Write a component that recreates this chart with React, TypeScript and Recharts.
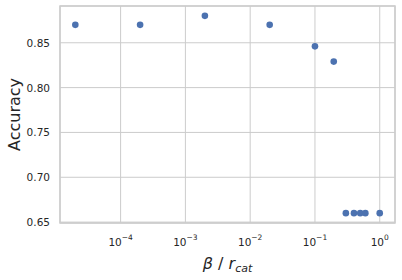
import React from 'react';
import { ScatterChart, Scatter, XAxis, YAxis, CartesianGrid, ReferenceArea } from 'recharts';

const betaValues = [2e-5, 2e-4, 2e-3, 2e-2, 0.1, 0.195, 0.3, 0.4, 0.5, 0.6, 1.0];
const accuracyValues = [0.87, 0.87, 0.88, 0.87, 0.846, 0.829, 0.66, 0.66, 0.66, 0.66, 0.66];
const xTicks = [1e-4, 1e-3, 1e-2, 1e-1, 1];
const xTickExponents = ['\u22124', '\u22123', '\u22122', '\u22121', '0'];
const yTicks = [0.65, 0.7, 0.75, 0.8, 0.85];
const yTickLabels = ['0.65', '0.70', '0.75', '0.80', '0.85'];

const data = betaValues.map((b, i) => ({ x: b, y: accuracyValues[i] }));

const X_DOMAIN: [number, number] = [1.16e-5, 1.72];
const Y_DOMAIN: [number, number] = [0.649, 0.891];
const FONT = 'DejaVu Sans';
const TEXT = '#262626';
const GRID = '#cccccc';

const XTick = (props: any) => {
  const { x, y, payload } = props;
  const idx = xTicks.findIndex((t) => Math.abs(t - payload.value) / t < 1e-6);
  const exp = idx >= 0 ? xTickExponents[idx] : '';
  return (
    <text x={x} y={y + 23} textAnchor="middle" style={{ fontFamily: FONT, fontSize: 10.5 }} fill={TEXT}>
      <tspan>10</tspan>
      <tspan dy={-6} style={{ fontSize: 7.5 }}>{exp}</tspan>
    </text>
  );
};

const YTick = (props: any) => {
  const { x, y, payload } = props;
  const idx = yTicks.findIndex((t) => Math.abs(t - payload.value) < 1e-6);
  return (
    <text x={x - 10} y={y} dy={4} textAnchor="end" style={{ fontFamily: FONT, fontSize: 10.5 }} fill={TEXT}>
      {idx >= 0 ? yTickLabels[idx] : ''}
    </text>
  );
};

const XLabel = (props: any) => {
  const { viewBox } = props;
  const cx = viewBox.x + viewBox.width / 2;
  return (
    <text x={cx} y={viewBox.y + 46} textAnchor="middle" style={{ fontFamily: FONT, fontSize: 16 }} fill={TEXT}>
      <tspan style={{ fontStyle: 'italic' }}>β</tspan>
      <tspan> / </tspan>
      <tspan style={{ fontStyle: 'italic' }}>r</tspan>
      <tspan dy={3} style={{ fontStyle: 'italic', fontSize: 11 }}>cat</tspan>
    </text>
  );
};

const YLabel = (props: any) => {
  const { viewBox } = props;
  const cy = viewBox.y + viewBox.height / 2;
  const x = 19.5;
  return (
    <text x={x} y={cy} textAnchor="middle" style={{ fontFamily: FONT, fontSize: 16 }} fill={TEXT} transform={`rotate(-90, ${x}, ${cy})`}>
      Accuracy
    </text>
  );
};

export default function App() {
  return (
    <div style={{ position: 'absolute', left: 0, top: 0, width: 402, height: 280, background: '#fff' }}>
      <ScatterChart width={402} height={280} margin={{ top: 6, right: 7, bottom: 0, left: 0 }}>
        <CartesianGrid stroke={GRID} strokeWidth={1} />
        <XAxis
          dataKey="x"
          type="number"
          scale="log"
          domain={X_DOMAIN}
          ticks={xTicks}
          allowDataOverflow
          height={57}
          tickLine={false}
          tickSize={0}
          tickMargin={0}
          axisLine={false}
          tick={<XTick />}
          interval={0}
          label={<XLabel />}
        />
        <YAxis
          dataKey="y"
          type="number"
          domain={Y_DOMAIN}
          ticks={yTicks}
          allowDataOverflow
          width={60}
          tickLine={false}
          tickSize={0}
          tickMargin={0}
          axisLine={false}
          tick={<YTick />}
          interval={0}
          label={<YLabel />}
        />
        <ReferenceArea
          x1={X_DOMAIN[0]}
          x2={X_DOMAIN[1]}
          y1={Y_DOMAIN[0]}
          y2={Y_DOMAIN[1]}
          fill="none"
          stroke={GRID}
          strokeWidth={1.5}
          ifOverflow="extendDomain"
        />
        <Scatter data={data} fill="#4c72b0" isAnimationActive={false} shape={(p: any) => <circle cx={p.cx} cy={p.cy} r={3.3} fill="#4c72b0" />} />
      </ScatterChart>
    </div>
  );
}
